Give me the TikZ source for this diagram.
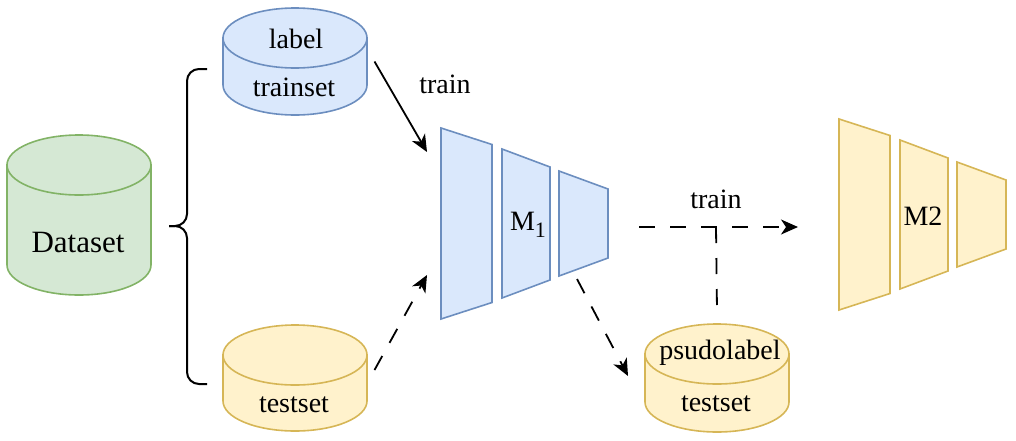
\documentclass[tikz,border=0pt]{standalone}
\usepackage{fontspec}
\setmainfont{Liberation Serif}
\usetikzlibrary{arrows.meta}
\definecolor{greenFill}{HTML}{D5E8D4}
\definecolor{greenLine}{HTML}{82B366}
\definecolor{blueFill}{HTML}{DAE8FC}
\definecolor{blueLine}{HTML}{6C8EBF}
\definecolor{yellowFill}{HTML}{FFF2CC}
\definecolor{yellowLine}{HTML}{D6B656}

% cylinder: centre x, top ellipse y, bottom ellipse y, fill, line
\newcommand{\dbcyl}[5]{%
  \filldraw[fill=#4, draw=#5] (#1-72,#2) -- (#1-72,#3)
    arc[start angle=180, end angle=360, x radius=72pt, y radius=30pt] -- (#1+72,#2) -- cycle;
  \filldraw[fill=#4, draw=#5] (#1,#2) ellipse [x radius=72pt, y radius=30pt];
}
% the three layers of a network
\newcommand{\netlayers}[2]{%
  \foreach \xl/\xr/\hl/\hr in {441/492/95.5/79, 502/550/74.5/56.5, 559/608/52.5/34.5}
    \filldraw[fill=#1, draw=#2] (\xl,223.5-\hl) -- (\xr,223.5-\hr) -- (\xr,223.5+\hr) -- (\xl,223.5+\hl) -- cycle;
}

\begin{document}
\begin{tikzpicture}[x=1pt, y=-1pt, line width=1.6pt,
    lbl/.style={font=\fontsize{28}{30}\selectfont, inner sep=0pt, anchor=base},
    dbbox/.style={minimum width=145pt, inner sep=0pt, outer sep=7pt},
    arr/.style={-{Stealth[length=17pt, width=15pt, inset=5pt]}, line width=1.8pt},
    dsh/.style={dash pattern=on 16pt off 15pt, line width=1.8pt}]
  \useasboundingbox (0,0) rectangle (1016,440);

  % data bases
  \dbcyl{79}{165}{265}{greenFill}{greenLine}
  \dbcyl{295}{38}{85}{blueFill}{blueLine}
  \dbcyl{295}{355}{401}{yellowFill}{yellowLine}
  \dbcyl{717}{354}{402}{yellowFill}{yellowLine}
  \node[dbbox, minimum height=160pt] (datadb) at (79,215) {};
  \node[dbbox, minimum height=107pt] (trainsetdb) at (295,61.5) {};
  \node[dbbox, minimum height=106pt] (testsetdb) at (295,378) {};
  \node[dbbox, minimum height=108pt] (psudodb) at (717,378) {};

  % networks
  \netlayers{blueFill}{blueLine}
  \begin{scope}[shift={(398,-9)}]
    \netlayers{yellowFill}{yellowLine}
  \end{scope}

  % brace
  \draw[line width=2pt, rounded corners=12pt] (207,69) -- (187,69) -- (187,226) -- (169,226);
  \draw[line width=2pt, rounded corners=12pt] (169,226) -- (187,226) -- (187,384) -- (207,384);

  % texts
  \node[lbl, font=\fontsize{31}{33}\selectfont] (dataset) at (78,252) {Dataset};
  \node[lbl] (label) at (296,48) {label};
  \node[lbl] (trainset) at (294,96) {trainset};
  \node[lbl] (testset) at (294,412) {testset};
  \node[lbl] (psudolabel) at (720,359) {psudolabel};
  \node[lbl] (psudotest) at (716,411) {testset};
  \node[lbl] (trainA) at (445,93) {train};
  \node[lbl] (trainB) at (716,208) {train};
  \node[lbl] (M1txt) at (528,230) {M\raisebox{-7pt}{\fontsize{22}{22}\selectfont 1}};
  \node[lbl] (M2txt) at (923,225) {M2};

  % connectors
  \coordinate (inTop) at (427,152);
  \coordinate (inBot) at (427,275);
  \coordinate (M1out) at (577,279);
  \coordinate (psudoIn) at (628,376);
  \coordinate (M1right) at (639,227);
  \coordinate (M2in) at (798,227);
  \coordinate (joint) at (716,227);

  \draw[arr] (trainsetdb.east) -- (inTop);
  \draw[arr, dsh] ([yshift=8pt]testsetdb.east) -- (inBot);
  \draw[arr, dsh] (M1out) -- (psudoIn);
  \draw[arr, dsh] (M1right) -- (M2in);
  \draw[dsh] (joint) -- ([yshift=6pt]psudodb.north);
\end{tikzpicture}
\end{document}
